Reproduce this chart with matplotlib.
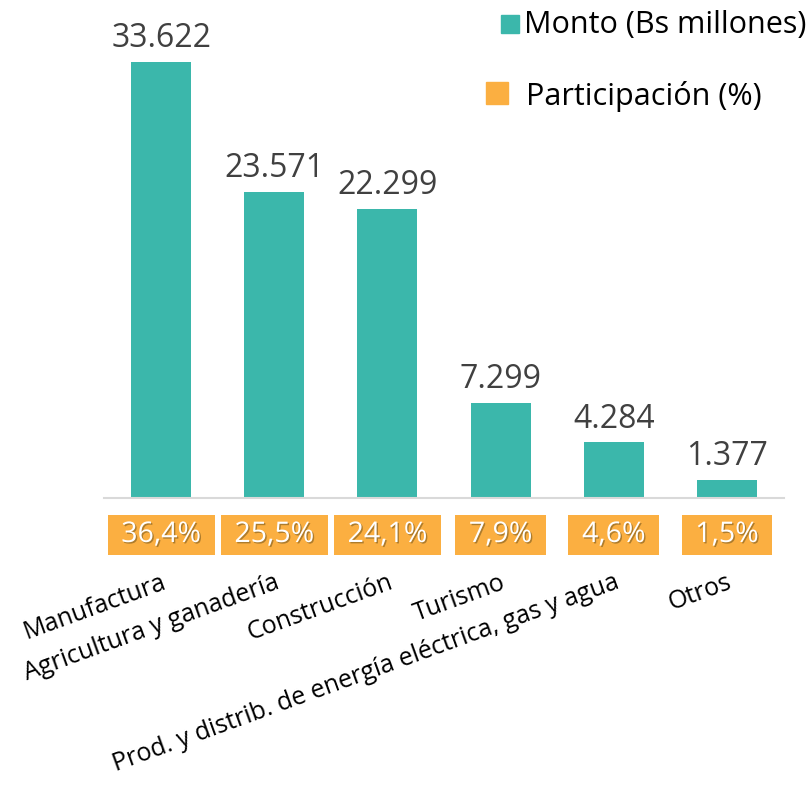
import matplotlib
matplotlib.use("Agg")
import matplotlib.pyplot as plt
import matplotlib.patheffects as pe
from matplotlib import transforms

# data
sectores = ["Manufactura", "Agricultura y ganadería", "Construcción", "Turismo",
            "Prod. y distrib. de energía eléctrica, gas y agua", "Otros"]
monto = [33622, 23571, 22299, 7299, 4284, 1377]
monto_txt = ["33.622", "23.571", "22.299", "7.299", "4.284", "1.377"]
participacion = ["36,4%", "25,5%", "24,1%", "7,9%", "4,6%", "1,5%"]

teal = "#3BB7AB"
orange = "#FBAF41"

plt.rcParams['font.family'] = ['Open Sans', 'DejaVu Sans']

fig = plt.figure(figsize=(8.11, 7.86), dpi=100)
ax = fig.add_axes([104.5 / 811, 288 / 786, 679 / 811, 498 / 786])

x = range(len(sectores))
ax.bar(x, monto, width=0.53, color=teal, zorder=2)
ax.set_xlim(-0.5, len(sectores) - 0.5)
ax.set_ylim(0, 33622 * 498 / 436)

for i, v in enumerate(monto):
    ax.annotate(monto_txt[i], (i, v), xytext=(0, 5), textcoords="offset points",
                ha="center", va="bottom", fontsize=23, color="#404040")

# participation boxes below the axis
trans = transforms.blended_transform_factory(ax.transData, ax.transAxes)
for i, p in enumerate(participacion):
    ax.text(i, -0.0743, " " + p + " ", transform=trans, ha="center", va="center",
            fontsize=20.5, color="white", clip_on=False,
            bbox=dict(boxstyle="square,pad=0.22", fc=orange, ec="none"),
            path_effects=[pe.withSimplePatchShadow(offset=(1, -1), shadow_rgbFace="#7a5a20", alpha=0.6)])

ax.set_xticks(list(x))
ax.set_xticklabels(sectores, rotation=20, ha="right", rotation_mode="anchor",
                   fontsize=18, color="black")
ax.tick_params(axis="x", length=0, pad=52)
ax.set_yticks([])
for s in ["top", "right", "left"]:
    ax.spines[s].set_visible(False)
ax.spines["bottom"].set_color("#D9D9D9")
ax.spines["bottom"].set_linewidth(1.5)

# legend
fig.patches.append(plt.Rectangle((501 / 811, 1 - 33 / 786), 18 / 811, 18 / 786,
                                 transform=fig.transFigure, color=teal))
fig.text(524 / 811, 1 - 25 / 786, "Monto (Bs millones)", fontsize=22, va="center", ha="left")
fig.patches.append(plt.Rectangle((486 / 811, 1 - 104 / 786), 22 / 811, 22 / 786,
                                 transform=fig.transFigure, color=orange))
fig.text(526 / 811, 1 - 96 / 786, "Participación (%)", fontsize=22, va="center", ha="left")

fig.savefig("out.png", dpi=100)
